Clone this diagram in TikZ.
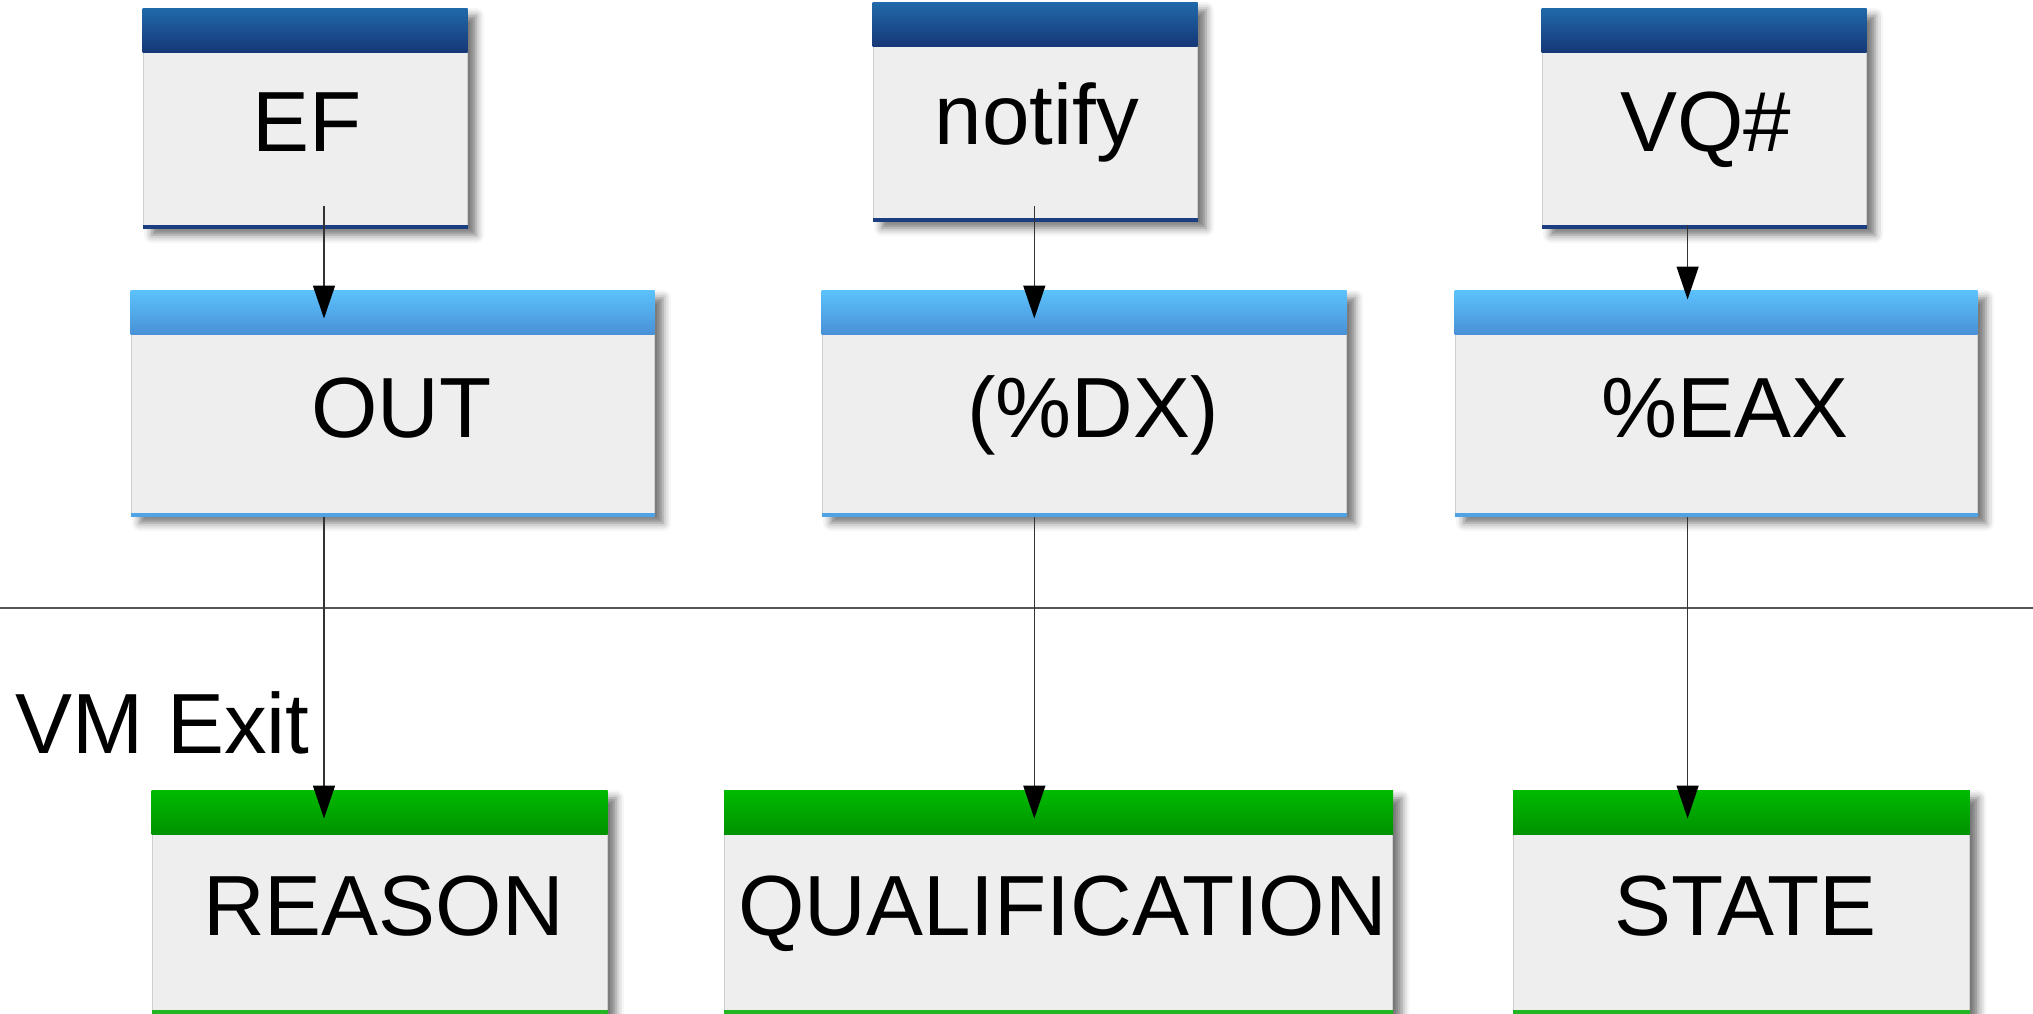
\documentclass[tikz,border=0pt]{standalone}
\usepackage{fontspec}
\setmainfont{Liberation Sans}
\usetikzlibrary{arrows.meta,shadows.blur,calc}

\definecolor{cardbody}{HTML}{EEEEEE}
\definecolor{cardedge}{HTML}{CFCFCF}
\definecolor{navytop}{HTML}{2069AA}
\definecolor{navybot}{HTML}{163777}
\definecolor{navyline}{HTML}{1A3E80}
\definecolor{skytop}{HTML}{5CC2FC}
\definecolor{skybot}{HTML}{4890D6}
\definecolor{skyline}{HTML}{4EA2E6}
\definecolor{leaftop}{HTML}{00BA00}
\definecolor{leafbot}{HTML}{009200}
\definecolor{leafline}{HTML}{22B522}
\definecolor{rulegray}{HTML}{555555}

\tikzset{
  % a card: light body with a soft shadow; title bar and bottom strip are added afterwards
  card/.style={
    rectangle, inner sep=0pt, fill=cardbody, draw=cardedge, line width=0.5pt,
    font=\fontsize{42.7pt}{50pt}\selectfont, text height=33.5pt, text depth=0pt,
    blur shadow={shadow xshift=4.5pt, shadow yshift=-3.5pt, shadow blur radius=4pt, shadow opacity=55},
  },
  source/.style={card, minimum width=162pt, minimum height=109.5pt, text height=32.5pt,
    execute at begin node={\hspace*{2pt}}},
  operand/.style={card, minimum height=112.5pt, execute at begin node={\hspace*{9pt}}},
  field/.style={card, minimum height=111pt, execute at begin node={\hspace*{4pt}}},
  link/.style={draw=black!80, line width=0.75pt,
    -{Triangle[length=16.5pt, width=11pt, color=black, fill=black]}},
}

\begin{document}
\begin{tikzpicture}[x=0.5pt, y=-0.5pt]
  \useasboundingbox (0,0) rectangle (2033,1013);

  % separator between guest side and exit fields
  \coordinate (ruleL) at (0,608);
  \coordinate (ruleR) at (2033,608);
  \draw[rulegray, line width=0.9pt] (ruleL) -- (ruleR);

  % columns used by the connectors
  \coordinate (c1) at (324,0);
  \coordinate (c2) at (1034.3,0);
  \coordinate (c3) at (1687.6,0);

  % top row
  \node[source] (ef) at (305,118.5) {EF};
  \node[source, minimum height=109pt] (notify) at (1035,112) {notify};
  \node[source] (vq) at (1704,118.5) {VQ\#};

  % middle row
  \node[operand, minimum width=261.5pt] (out) at (392.5,403.5) {OUT};
  \node[operand, minimum width=262pt] (dx) at (1084,403.5) {(\%DX)};
  \node[operand, minimum width=261pt] (eax) at (1716,403.5) {\%EAX};

  % bottom row
  \node[field, minimum width=227.5pt] (reason) at (379.5,902) {REASON};
  \node[field, minimum width=334pt] (qual) at (1058.6,902) {QUALIFICATION};
  \node[field, minimum width=227.8pt] (state) at (1741.5,902) {STATE};

  % title bars (vertical gradient) and coloured bottom strips
  \foreach \n/\ca/\cb/\cl in {ef/navytop/navybot/navyline, notify/navytop/navybot/navyline,
      vq/navytop/navybot/navyline, out/skytop/skybot/skyline, dx/skytop/skybot/skyline,
      eax/skytop/skybot/skyline, reason/leaftop/leafbot/leafline, qual/leaftop/leafbot/leafline,
      state/leaftop/leafbot/leafline}{
    \shade[top color=\ca, bottom color=\cb]
      (\n.north west) rectangle ($(\n.north east)+(0,-22pt)$);
    \fill[\cl] ($(\n.south west)+(0,2pt)$) rectangle (\n.south east);
  }

  \node[anchor=base west, inner sep=0pt, font=\fontsize{42.7pt}{50pt}\selectfont] (vmexit) at (15,753) {VM Exit};

  % connectors
  \draw[link] ($(ef.south -| c1)+(0,11.5pt)$) -- ($(out.north -| c1)+(0,-14pt)$);
  \draw[link] ($(notify.south -| c2)+(0,8pt)$) -- ($(dx.north -| c2)+(0,-14pt)$);
  \draw[link] ($(vq.south -| c3)+(0,2pt)$) -- ($(eax.north -| c3)+(0,-4.5pt)$);
  \draw[link] (out.south -| c1) -- ($(reason.north -| c1)+(0,-14pt)$);
  \draw[link] (dx.south -| c2) -- ($(qual.north -| c2)+(0,-14pt)$);
  \draw[link] (eax.south -| c3) -- ($(state.north -| c3)+(0,-14pt)$);
\end{tikzpicture}
\end{document}
